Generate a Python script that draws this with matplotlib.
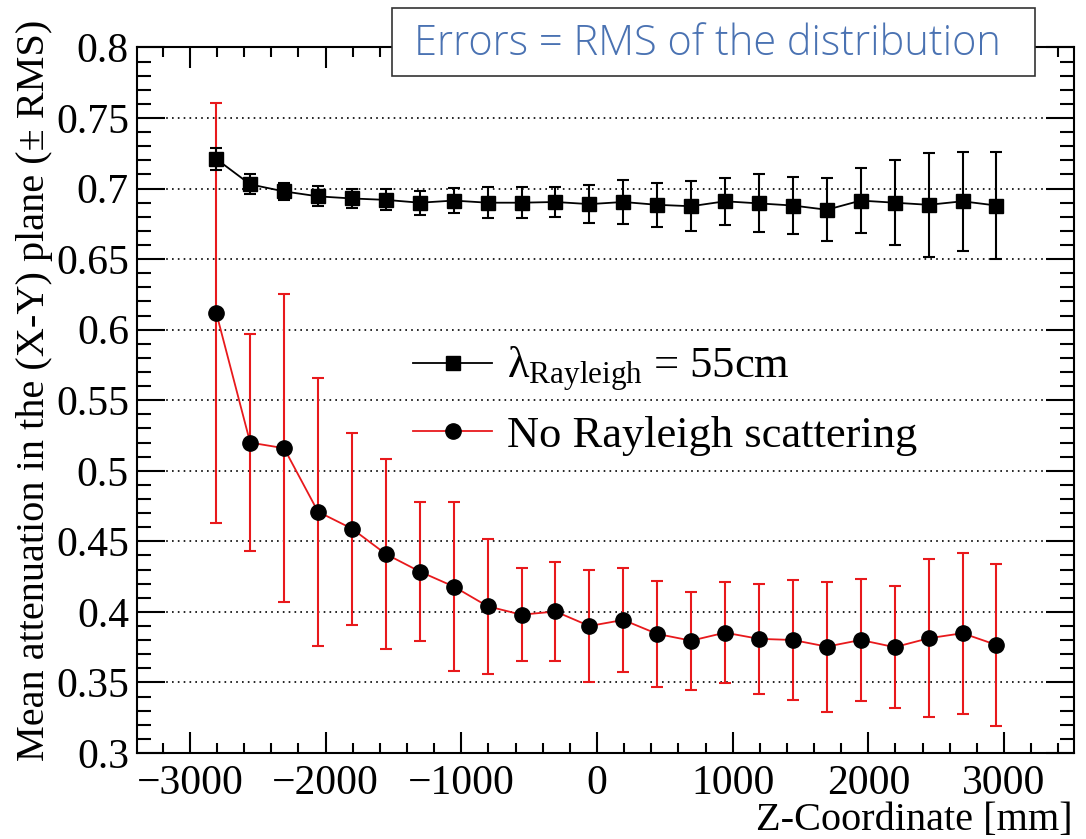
import matplotlib
matplotlib.use('Agg')
import matplotlib.pyplot as plt
import numpy as np
from matplotlib.lines import Line2D
from matplotlib.patches import Rectangle
from matplotlib.ticker import MultipleLocator, FuncFormatter

plt.rcParams['font.family'] = ['Liberation Serif', 'DejaVu Serif']
plt.rcParams['mathtext.fontset'] = 'custom'
plt.rcParams['mathtext.rm'] = 'Liberation Serif'
plt.rcParams['mathtext.it'] = 'Liberation Serif:italic'

# Z positions (mm)
z = [-2806, -2556, -2306, -2056, -1806, -1556, -1306, -1056, -806, -556, -306, -56,
     194, 444, 694, 944, 1194, 1444, 1694, 1944, 2194, 2444, 2694, 2944]

# lambda_Rayleigh = 55cm
att_55 = [0.721, 0.703, 0.698, 0.6945, 0.693, 0.692, 0.690, 0.6915, 0.690, 0.690, 0.6905, 0.689,
          0.6905, 0.6885, 0.6875, 0.691, 0.6895, 0.688, 0.685, 0.6915, 0.690, 0.6885, 0.691, 0.688]
rms_55 = [0.008, 0.007, 0.006, 0.007, 0.0065, 0.0074, 0.0084, 0.0086, 0.011, 0.011, 0.0105, 0.0133,
          0.0156, 0.0158, 0.0177, 0.0166, 0.0206, 0.020, 0.0223, 0.0233, 0.030, 0.037, 0.035, 0.038]

# no Rayleigh scattering
att_no = [0.612, 0.520, 0.516, 0.471, 0.459, 0.441, 0.4286, 0.418, 0.404, 0.398, 0.4003, 0.390,
          0.3943, 0.3844, 0.3796, 0.3853, 0.3809, 0.3801, 0.3754, 0.3801, 0.375, 0.3813, 0.3849, 0.3766]
rms_no = [0.149, 0.077, 0.109, 0.095, 0.068, 0.0676, 0.0494, 0.0596, 0.0478, 0.033, 0.035, 0.0398,
          0.037, 0.0375, 0.0347, 0.036, 0.039, 0.0425, 0.046, 0.0433, 0.0433, 0.056, 0.057, 0.0577]

fig = plt.figure(figsize=(10.86, 8.39), dpi=100)
ax = fig.add_axes([0.1264, 0.1025, 0.8626, 0.8409])

ax.errorbar(z, att_no, yerr=rms_no, color='#e8191c', lw=1.3, elinewidth=1.5,
            capsize=4.5, capthick=1.5, marker='o', ms=11, mfc='black', mec='black', zorder=3)
ax.errorbar(z, att_55, yerr=rms_55, color='black', lw=1.3, elinewidth=1.5,
            capsize=4.5, capthick=1.5, marker='s', ms=10.5, mfc='black', mec='black', zorder=4)

ax.set_xlim(-3388, 3516)
ax.set_ylim(0.3, 0.8)

ax.xaxis.set_major_locator(MultipleLocator(1000))
ax.xaxis.set_minor_locator(MultipleLocator(200))
ax.yaxis.set_major_locator(MultipleLocator(0.05))
ax.yaxis.set_minor_locator(MultipleLocator(0.01))

fmt = FuncFormatter(lambda v, p: ('%g' % round(v, 4)).replace('-', '\u2212'))
ax.xaxis.set_major_formatter(fmt)
ax.yaxis.set_major_formatter(fmt)

ax.tick_params(which='both', direction='in', top=True, right=True, width=1.5, labelsize=30)
ax.tick_params(axis='y', which='major', length=20, pad=6)
ax.tick_params(axis='y', which='minor', length=10)
ax.tick_params(axis='x', which='major', length=15, pad=8)
ax.tick_params(axis='x', which='minor', length=7.5)
for s in ax.spines.values():
    s.set_linewidth(1.5)

ax.yaxis.grid(True, which='major', linestyle=(0, (1, 2.5)), color='black', lw=1.2)
ax.set_axisbelow(True)

handles = [Line2D([], [], color='black', lw=1.3, marker='s', ms=10.5, mfc='black', mec='black'),
           Line2D([], [], color='#e8191c', lw=1.3, marker='o', ms=11, mfc='black', mec='black')]
labels = ['λ$_{\\mathrm{Rayleigh}}$ = 55cm', 'No Rayleigh scattering']
ax.legend(handles, labels, loc='center left', bbox_to_anchor=(413 / 1086, 1 - 400 / 839),
          bbox_transform=fig.transFigure, frameon=False, fontsize=32, borderpad=0,
          borderaxespad=0, handlelength=1.78, handletextpad=0.33, labelspacing=0.5)

fig.text(35 / 1086, 1 - 390 / 839, 'Mean attenuation in the (X-Y) plane (± RMS)',
         rotation=90, ha='center', va='center', fontsize=29)
fig.text(1073 / 1086, 1 - 830 / 839, 'Z-Coordinate [mm]', ha='right', va='baseline', fontsize=29)

box = Rectangle((392 / 1086, 1 - 76 / 839), (1035 - 392) / 1086, 68 / 839,
                transform=fig.transFigure, facecolor='white', edgecolor='#333333',
                lw=1.2, zorder=10)
fig.patches.append(box)
fig.text(707 / 1086, 1 - 44 / 839, 'Errors = RMS of the distribution', ha='center',
         va='center', fontsize=29.9, color='#4a72b2', family='Open Sans', weight='light',
         zorder=11)

fig.savefig('out.png', dpi=100)
